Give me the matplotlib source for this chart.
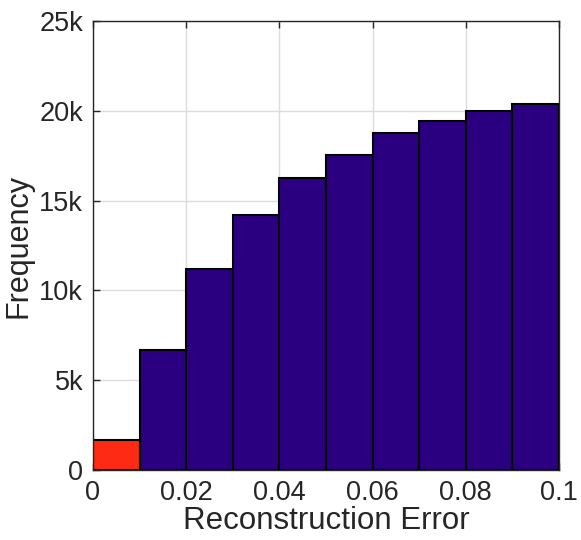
import numpy as np
import matplotlib
matplotlib.use("Agg")
import matplotlib.pyplot as plt
from matplotlib.ticker import FuncFormatter

# histogram of reconstruction error
bin_edges = [0.0, 0.01, 0.02, 0.03, 0.04, 0.05, 0.06, 0.07, 0.08, 0.09, 0.1]
counts = [1670, 6680, 11170, 14200, 16250, 17540, 18780, 19450, 19990, 20360]
bar_colors = ["#FF2A14"] + ["#2A0080"] * 9
x_ticks = [0, 0.02, 0.04, 0.06, 0.08, 0.1]
x_tick_labels = ["0", "0.02", "0.04", "0.06", "0.08", "0.1"]
y_ticks = [0, 5000, 10000, 15000, 20000, 25000]

plt.rcParams['font.family'] = ['Liberation Sans', 'DejaVu Sans']

fig = plt.figure(figsize=(5.81, 5.40), dpi=100)
ax = fig.add_axes([0.160, 0.1296, 0.802, 0.8315])

left = np.array(bin_edges[:-1])
widths = np.diff(bin_edges)
ax.bar(left, counts, width=widths, align='edge', color=bar_colors,
       edgecolor='black', linewidth=1.5, zorder=2)

ax.set_xlim(0, 0.1)
ax.set_ylim(0, 25000)
ax.set_xticks(x_ticks)
ax.set_xticklabels(x_tick_labels)
ax.set_yticks(y_ticks)
ax.yaxis.set_major_formatter(FuncFormatter(lambda v, p: "0" if v == 0 else f"{int(v/1000)}k"))

ax.grid(True, color='#dcdcdc', linewidth=1.0, zorder=0)
ax.set_axisbelow(True)
ax.tick_params(direction='in', length=5, width=1, top=True, right=False,
               labelsize=19.5, colors='#262626', pad=7)
for s in ax.spines.values():
    s.set_color('#262626')
    s.set_linewidth(1.0)

ax.set_xlabel('Reconstruction Error', fontsize=22.5, color='#262626', labelpad=0)
ax.set_ylabel('Frequency', fontsize=22, color='#262626', labelpad=4)

fig.savefig('out.png', dpi=100)
